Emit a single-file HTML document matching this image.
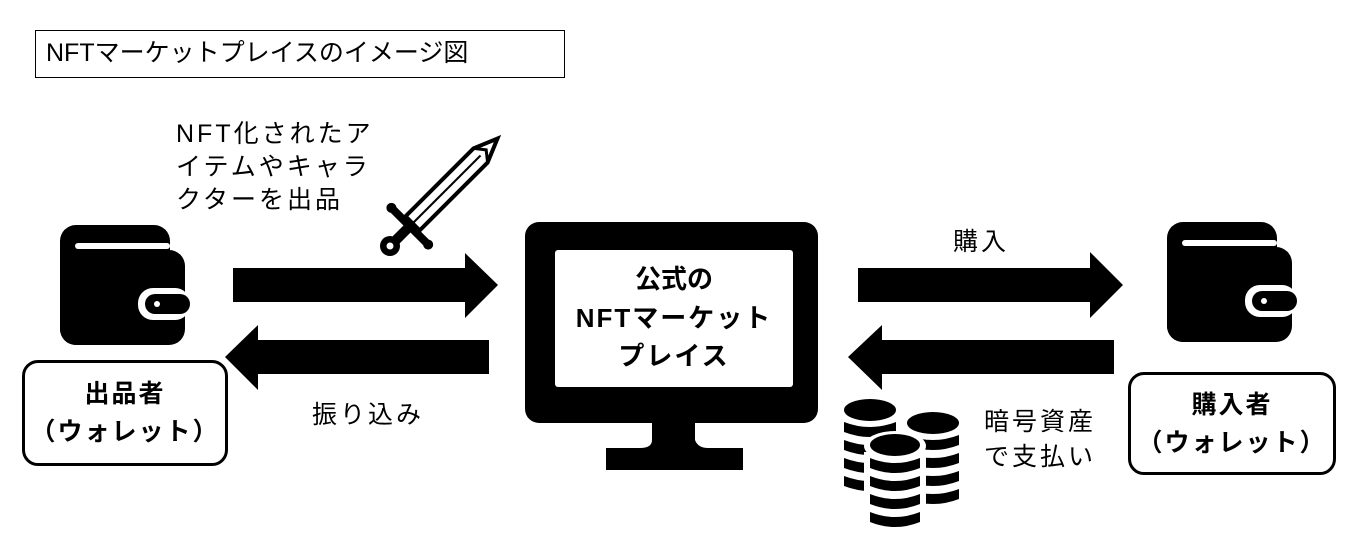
<!DOCTYPE html>
<html><head><meta charset="utf-8"><style>
html,body{margin:0;padding:0;background:#fff;}
body{width:1358px;height:556px;position:relative;overflow:hidden;font-family:"Liberation Sans","Noto Sans CJK JP",sans-serif;color:#000;}
.t{position:absolute;white-space:nowrap;}
.box{position:absolute;border:3px solid #000;border-radius:16px;box-sizing:border-box;display:flex;align-items:center;justify-content:center;text-align:center;font-weight:bold;font-size:25px;line-height:38px;letter-spacing:2px;}
</style></head><body>
<div class="t" style="left:35px;top:30px;width:530px;height:48px;border:1.5px solid #000;box-sizing:border-box;font-size:25px;line-height:45px;padding-left:10px;">NFTマーケットプレイスのイメージ図</div>
<div class="t" style="left:176px;top:118px;font-size:25px;line-height:33px;letter-spacing:3px;">NFT化されたア<br>イテムやキャラ<br>クターを出品</div>
<div class="t" style="left:312px;top:395px;font-size:25px;letter-spacing:3px;">振り込み</div>
<div class="t" style="left:953px;top:222px;font-size:25px;letter-spacing:3px;">購入</div>
<div class="t" style="left:984px;top:405px;font-size:25px;line-height:35px;letter-spacing:3px;">暗号資産<br>で支払い</div>
<div class="box" style="left:22px;top:360px;width:206px;height:106px;">出品者<br>（ウォレット）</div>
<div class="box" style="left:1128px;top:372px;width:208px;height:103px;">購入者<br>（ウォレット）</div>
<svg width="1358" height="556" style="position:absolute;left:0;top:0">
<defs>
<g id="st">
<ellipse cx="0" cy="0" rx="26" ry="11"/>
<path d="M-26,12 Q0,22 26,12 V22 Q0,32 -26,22Z"/>
<path d="M-26,30 Q0,40 26,30 V40 Q0,50 -26,40Z"/>
<path d="M-26,48 Q0,58 26,48 V58 Q0,68 -26,58Z"/>
<path d="M-26,66 Q0,76 26,66 V76 Q0,86 -26,76Z"/>
</g>
<g id="w">
<rect x="60" y="225" width="110" height="120" rx="16"/>
<rect x="60" y="250" width="125" height="95" rx="16"/>
<rect x="75" y="243" width="95" height="6" rx="3" fill="#fff"/>
<rect x="138" y="288" width="52" height="32" rx="15" fill="#fff"/>
<rect x="145" y="294" width="45" height="20" rx="10"/>
<circle cx="157" cy="304" r="3" fill="#fff"/>
</g>
</defs>
<polygon points="233,268 465,268 465,253 498,285 465,318 465,302 233,302"/>
<polygon points="489,340 258,340 258,325 225,357 258,390 258,374 489,374"/>
<polygon points="858,268 1090,268 1090,252 1123,285 1090,318 1090,302 858,302"/>
<polygon points="1114,340 882,340 882,325 848,357 882,390 882,374 1114,374"/>
<rect x="525" y="222" width="293" height="201" rx="14"/>
<rect x="555" y="250" width="238" height="137" rx="3" fill="#fff"/>
<path d="M652,423 H695 V440 Q698,448 708,448 H743 V470 H606 V448 H640 Q652,448 652,440Z"/>
<text x="674" y="288" text-anchor="middle" font-size="26" font-weight="bold" font-family="Liberation Sans,Noto Sans CJK JP,sans-serif">公式の</text>
<text x="674" y="327" text-anchor="middle" font-size="26" font-weight="bold" letter-spacing="2" font-family="Liberation Sans,Noto Sans CJK JP,sans-serif">NFTマーケット</text>
<text x="674" y="365" text-anchor="middle" font-size="26" font-weight="bold" letter-spacing="2" font-family="Liberation Sans,Noto Sans CJK JP,sans-serif">プレイス</text>
<use href="#w"/>
<use href="#w" transform="translate(1107,-3)"/>
<g transform="translate(390,246) rotate(-45)">
<path d="M32,-10 L128,-10 L152,0 L128,10 L32,10Z" fill="#fff" stroke="#000" stroke-width="4"/>
<line x1="32" y1="0" x2="128" y2="0" stroke="#000" stroke-width="2"/>
<path d="M128,-10 L152,0 L128,10 M128,-10 L136,0 L128,10" fill="none" stroke="#000" stroke-width="3"/>
<rect x="24" y="-26" width="8" height="52" rx="3"/>
<circle cx="28" cy="-26" r="5"/>
<circle cx="28" cy="26" r="5"/>
<rect x="4" y="-5" width="22" height="10"/>
<circle cx="0" cy="0" r="10"/>
<circle cx="0" cy="0" r="3.5" fill="#fff"/>
</g>
<use href="#st" transform="translate(870,410)"/>
<use href="#st" transform="translate(933,423)"/>
<g transform="translate(895,446)">
<ellipse cx="0" cy="0" rx="31" ry="15" fill="#fff"/>
<path d="M-31,6 L31,6 L31,92 L-31,92Z" fill="#fff"/>
</g>
<g transform="translate(895,445)">
<ellipse cx="0" cy="0" rx="25" ry="11"/>
<path d="M-25,13 Q0,23 25,13 V23 Q0,33 -25,23Z"/>
<path d="M-25,31 Q0,41 25,31 V41 Q0,51 -25,41Z"/>
<path d="M-25,49 Q0,59 25,49 V59 Q0,69 -25,59Z"/>
<path d="M-25,67 Q0,77 25,67 V77 Q0,87 -25,77Z"/>
</g>
</svg>
</body></html>
